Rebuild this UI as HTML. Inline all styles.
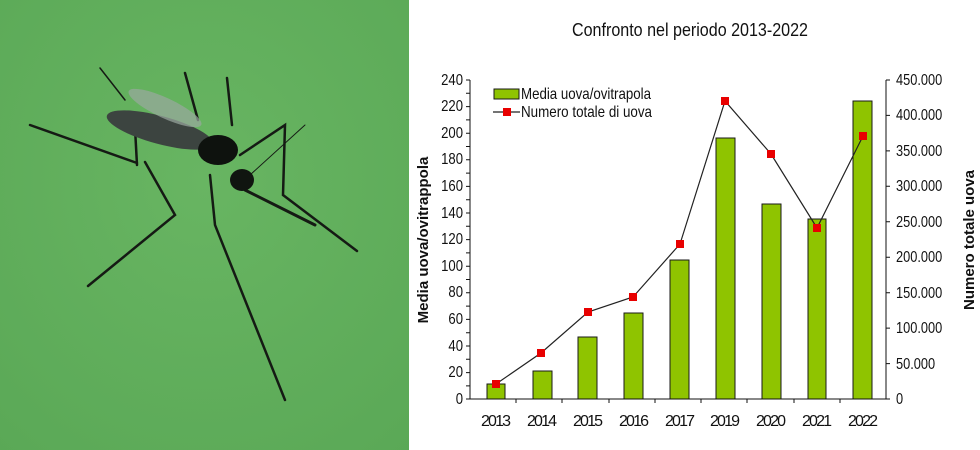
<!DOCTYPE html>
<html><head><meta charset="utf-8"><style>
html,body{margin:0;padding:0;background:#fff;}
svg{display:block;}
text{font-family:"Liberation Sans",sans-serif;fill:#111;}
</style></head><body>
<svg width="980" height="450" viewBox="0 0 980 450" xmlns="http://www.w3.org/2000/svg">
<defs>
<radialGradient id="g" cx="0.5" cy="0.4" r="0.8">
<stop offset="0" stop-color="#68b562"/><stop offset="1" stop-color="#5aa856"/>
</radialGradient>
</defs>
<rect x="0" y="0" width="409" height="450" fill="url(#g)"/>
<g stroke="#151a14" fill="none" stroke-linecap="round">
<path d="M137,165 L135,128 M137,163 L30,125" stroke-width="2.5"/>
<path d="M145,162 L175,215 L88,286" stroke-width="2.5"/>
<path d="M210,175 L215,225 L285,400" stroke-width="2.5"/>
<path d="M240,155 L285,125 L283,195 L357,251" stroke-width="2.5"/>
<path d="M185,73 L198,120 M227,78 L232,125" stroke-width="2.5"/>
<path d="M245,190 L315,225" stroke-width="3"/>
<path d="M250,175 L305,125" stroke-width="1"/>
<path d="M100,68 L125,100" stroke-width="1.5"/>
</g>
<ellipse cx="160" cy="130" rx="55" ry="14" fill="#3c4440" transform="rotate(15 160 130)"/>
<ellipse cx="165" cy="108" rx="40" ry="10" fill="#9aa8a0" opacity="0.7" transform="rotate(25 165 108)"/>
<ellipse cx="218" cy="150" rx="20" ry="15" fill="#0e120e"/>
<ellipse cx="242" cy="180" rx="12" ry="11" fill="#101510"/>

<text x="690" y="36" font-size="18" text-anchor="middle" textLength="236" lengthAdjust="spacingAndGlyphs">Confronto nel periodo 2013-2022</text>
<g fill="#8fc400" stroke="#1a1a1a" stroke-width="1">
<rect x="487" y="384" width="18" height="15"/>
<rect x="533" y="371" width="19" height="28"/>
<rect x="578" y="337" width="19" height="62"/>
<rect x="624" y="313" width="19" height="86"/>
<rect x="670" y="260" width="19" height="139"/>
<rect x="716" y="138" width="19" height="261"/>
<rect x="762" y="204" width="19" height="195"/>
<rect x="808" y="219" width="18" height="180"/>
<rect x="853" y="101" width="19" height="298"/>
</g>
<polyline points="496,384 541,353 588,312 633,297 680,244 725,101 771,154 817,228 863,136" fill="none" stroke="#222" stroke-width="1.2"/>
<g fill="#e80000">
<rect x="492" y="380" width="8" height="8"/><rect x="537" y="349" width="8" height="8"/><rect x="584" y="308" width="8" height="8"/><rect x="629" y="293" width="8" height="8"/><rect x="676" y="240" width="8" height="8"/><rect x="721" y="97" width="8" height="8"/><rect x="767" y="150" width="8" height="8"/><rect x="813" y="224" width="8" height="8"/><rect x="859" y="132" width="8" height="8"/>
</g>
<g stroke="#111" stroke-width="1">
<line x1="470" y1="80" x2="470" y2="399"/>
<line x1="886" y1="80" x2="886" y2="399"/>
<line x1="470" y1="399" x2="886" y2="399"/>
<path d="M466,80h4M466,93.3h4M466,106.6h4M466,119.9h4M466,133.2h4M466,146.5h4M466,159.8h4M466,173.1h4M466,186.4h4M466,199.7h4M466,213h4M466,226.3h4M466,239.6h4M466,252.9h4M466,266.2h4M466,279.5h4M466,292.8h4M466,306.1h4M466,319.4h4M466,332.7h4M466,346h4M466,359.3h4M466,372.6h4M466,385.9h4M466,399h4"/>
<path d="M886,80h4M886,115.4h4M886,150.9h4M886,186.3h4M886,221.8h4M886,257.2h4M886,292.7h4M886,328.1h4M886,363.6h4M886,399h4"/>
<path d="M516,399v4M562,399v4M609,399v4M655,399v4M701,399v4M747,399v4M794,399v4M840,399v4"/>
</g>
<g font-size="16" text-anchor="end" transform="translate(463,0) scale(0.82,1)">
<text x="0" y="85">240</text><text x="0" y="111">220</text><text x="0" y="138">200</text><text x="0" y="164">180</text><text x="0" y="191">160</text><text x="0" y="218">140</text><text x="0" y="244">120</text><text x="0" y="271">100</text><text x="0" y="297">80</text><text x="0" y="324">60</text><text x="0" y="351">40</text><text x="0" y="377">20</text><text x="0" y="404">0</text>
</g>
<g font-size="16" text-anchor="start" transform="translate(896,0) scale(0.8,1)">
<text x="0" y="85">450.000</text><text x="0" y="120">400.000</text><text x="0" y="156">350.000</text><text x="0" y="191">300.000</text><text x="0" y="227">250.000</text><text x="0" y="262">200.000</text><text x="0" y="298">150.000</text><text x="0" y="333">100.000</text><text x="0" y="369">50.000</text><text x="0" y="404">0</text>
</g>
<g font-size="16" text-anchor="middle" lengthAdjust="spacingAndGlyphs">
<text x="496" y="426" textLength="30">2013</text><text x="542" y="426" textLength="30">2014</text><text x="588" y="426" textLength="30">2015</text><text x="634" y="426" textLength="30">2016</text><text x="680" y="426" textLength="30">2017</text><text x="725" y="426" textLength="30">2019</text><text x="771" y="426" textLength="30">2020</text><text x="817" y="426" textLength="30">2021</text><text x="863" y="426" textLength="30">2022</text>
</g>
<text transform="translate(428,240) rotate(-90)" font-size="15" font-weight="bold" text-anchor="middle" fill="#333">Media uova/ovitrappola</text>
<text transform="translate(974,240) rotate(-90)" font-size="15" font-weight="bold" text-anchor="middle" fill="#333">Numero totale uova</text>
<rect x="494" y="89" width="25" height="10" fill="#8fc400" stroke="#1a1a1a" stroke-width="1"/>
<text x="521" y="99" font-size="16" textLength="130" lengthAdjust="spacingAndGlyphs">Media uova/ovitrapola</text>
<line x1="493" y1="112" x2="520" y2="112" stroke="#222" stroke-width="1.2"/>
<rect x="503" y="108" width="8" height="8" fill="#e80000"/>
<text x="521" y="117" font-size="16" textLength="131" lengthAdjust="spacingAndGlyphs">Numero totale di uova</text>
</svg>
</body></html>
